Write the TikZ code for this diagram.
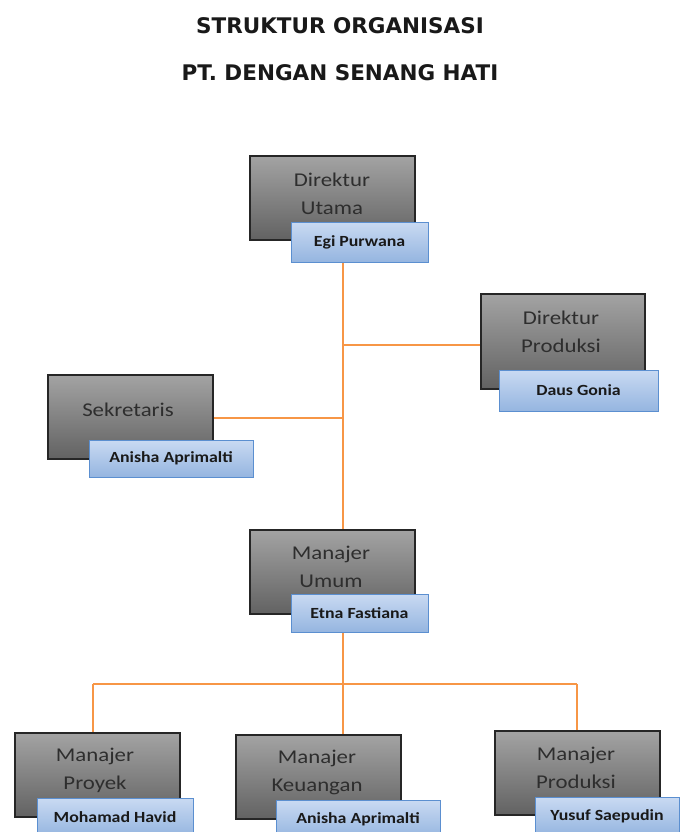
\documentclass[tikz,border=0pt]{standalone}
\usepackage{fontspec}
\setmainfont{Carlito}
\newfontfamily\boxfont[FakeStretch=1.17]{Carlito}
\newfontfamily\namefont[FakeStretch=1.15]{Carlito Bold}
\newfontfamily\titlefont{DejaVu Sans}
\definecolor{grayTop}{HTML}{A3A3A3}
\definecolor{grayBot}{HTML}{626262}
\definecolor{blueTop}{HTML}{C9DAF2}
\definecolor{blueBot}{HTML}{95B5E0}
\definecolor{blueEdge}{HTML}{5B8FD0}
\definecolor{orangeLine}{HTML}{F79646}
\tikzset{
  graybox/.style={draw=black!85, line width=1.2pt, top color=grayTop, bottom color=grayBot, inner sep=0pt},
  namebox/.style={draw=blueEdge, line width=1pt, top color=blueTop, bottom color=blueBot, inner sep=0pt, font=\namefont\fontsize{15.5}{17}\selectfont, text=black!90},
  boxtext/.style={align=center, font=\boxfont\fontsize{19.5}{28}\selectfont, text=black!82, inner sep=0pt},
  link/.style={draw=orangeLine, line width=1.5pt},
  title/.style={font=\titlefont\bfseries\fontsize{21.5}{24}\selectfont, inner sep=0pt, text=black!90}
}
\begin{document}
\begin{tikzpicture}[x=1pt,y=-1pt]
\useasboundingbox (0,0) rectangle (688,832);
\clip (0,0) rectangle (688,832);
\fill[white] (0,0) rectangle (688,832);
\node[title] (t1) at (340,26) {STRUKTUR ORGANISASI};
\node[title] (t2) at (340,73) {PT. DENGAN SENANG HATI};

% Direktur Utama
\node[graybox, minimum width=165pt, minimum height=84pt] (du) at (332.5,198) {};
\node[boxtext] (dut) at (332,194) {Direktur\\Utama};
\node[namebox, minimum width=137pt, minimum height=40pt] (dun) at (359.5,242) {Egi Purwana};

% Direktur Produksi
\node[graybox, minimum width=164pt, minimum height=95pt] (dp) at (563,341.5) {};
\node[boxtext] (dpt) at (561,332) {Direktur\\Produksi};
\node[namebox, minimum width=159pt, minimum height=41pt] (dpn) at (578.5,390.5) {Daus Gonia};

% Sekretaris
\node[graybox, minimum width=165pt, minimum height=84pt] (sk) at (130.5,417) {};
\node[boxtext] (skt) at (128,410) {Sekretaris};
\node[namebox, minimum width=164pt, minimum height=37pt] (skn) at (171,458.5) {Anisha Aprimalti};

% Manajer Umum
\node[graybox, minimum width=165pt, minimum height=84pt] (mu) at (332.5,572) {};
\node[boxtext] (mut) at (331,567) {Manajer\\Umum};
\node[namebox, minimum width=137pt, minimum height=38pt] (mun) at (359.5,613) {Etna Fastiana};

% Manajer Proyek
\node[graybox, minimum width=165pt, minimum height=84pt] (mp) at (97.5,775) {};
\node[boxtext] (mpt) at (95,770) {Manajer\\Proyek};
\node[namebox, minimum width=156pt, minimum height=38pt] (mpn) at (115,817) {Mohamad Havid};

% Manajer Keuangan
\node[graybox, minimum width=165pt, minimum height=84pt] (mk) at (318.5,777) {};
\node[boxtext] (mkt) at (317,772) {Manajer\\Keuangan};
\node[namebox, minimum width=164pt, minimum height=38pt] (mkn) at (358,819) {Anisha Aprimalti};

% Manajer Produksi
\node[graybox, minimum width=165pt, minimum height=84pt] (mpr) at (577.5,773) {};
\node[boxtext] (mprt) at (576,768) {Manajer\\Produksi};
\node[namebox, minimum width=144pt, minimum height=38pt] (mprn) at (607,816) {Yusuf Saepudin};

% connectors
\coordinate (j1) at (343,345);
\coordinate (j2) at (343,418);
\coordinate (j3) at (343,684);
\coordinate (jl) at (93,684);
\coordinate (jr) at (577,684);
\draw[link] (dun.south -| j1) -- (mu.north -| j1);
\draw[link] (j1) -- (dp.west |- j1);
\draw[link] (j2) -- (sk.east |- j2);
\draw[link] (mun.south -| j3) -- (mk.north -| j3);
\draw[link] (jl) -- (jr);
\draw[link] (jl) -- (mp.north -| jl);
\draw[link] (jr) -- (mpr.north -| jr);
\end{tikzpicture}
\end{document}
